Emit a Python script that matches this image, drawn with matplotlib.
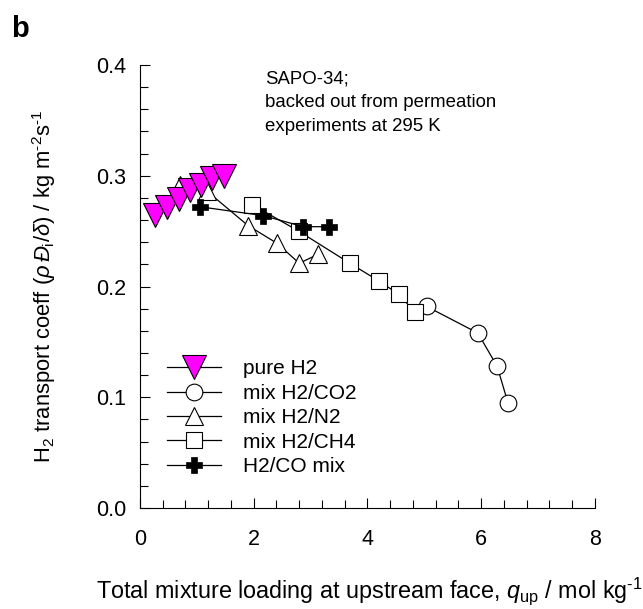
import matplotlib
matplotlib.use("Agg")
import matplotlib.pyplot as plt
from matplotlib.ticker import MultipleLocator, FormatStrFormatter

plt.rcParams['font.family'] = ['Liberation Sans', 'DejaVu Sans']
plt.rcParams['mathtext.fontset'] = 'custom'
plt.rcParams['mathtext.rm'] = 'Liberation Sans'
plt.rcParams['mathtext.it'] = 'Liberation Sans:italic'
plt.rcParams['mathtext.bf'] = 'Liberation Sans:bold'

# data
pure_x = [0.27, 0.48, 0.68, 0.88, 1.07, 1.27, 1.48]
pure_y = [0.265, 0.272, 0.279, 0.287, 0.292, 0.298, 0.300]

co2_x = [5.04, 5.94, 6.28, 6.47]
co2_y = [0.182, 0.158, 0.128, 0.095]

n2_x = [0.70, 1.18, 1.90, 2.41, 2.80, 3.13]
n2_y = [0.292, 0.286, 0.255, 0.239, 0.221, 0.229]

ch4_x = [1.97, 2.79, 3.69, 4.20, 4.55, 4.83]
ch4_y = [0.274, 0.250, 0.221, 0.205, 0.193, 0.177]

co_x = [1.05, 2.17, 2.87, 3.32]
co_y = [0.272, 0.264, 0.254, 0.254]

FS_TICK = 15.5
FS_YLAB = 15.8
FS_XLAB = 16.8
FS_ANN = 13.4
FS_LEG = 15.0

fig = plt.figure(figsize=(6.43, 6.09), dpi=100)
ax = fig.add_axes([0.2177, 0.1658, 0.7076, 0.7275])

lw = 0.9
ax.plot(pure_x, pure_y, '-', color='black', lw=lw, marker='v', ms=17,
        mfc='#ff00ff', mec='black', mew=0.8, label='pure H2', zorder=5)
ax.plot(co2_x, co2_y, '-', color='black', lw=lw, marker='o', ms=12,
        mfc='white', mec='black', mew=0.8, label='mix H2/CO2', zorder=3)
ax.plot(n2_x, n2_y, '-', color='black', lw=lw, marker='^', ms=13,
        mfc='white', mec='black', mew=0.8, label='mix H2/N2', zorder=3)
ax.plot(ch4_x, ch4_y, '-', color='black', lw=lw, marker='s', ms=11,
        mfc='white', mec='black', mew=0.8, label='mix H2/CH4', zorder=3)
ax.plot(co_x, co_y, '-', color='black', lw=lw, marker='P', ms=11,
        mfc='black', mec='black', mew=0.5, label='H2/CO mix', zorder=4)

ax.set_xlim(0, 8)
ax.set_ylim(0, 0.4)
ax.xaxis.set_major_locator(MultipleLocator(2))
ax.xaxis.set_minor_locator(MultipleLocator(0.4))
ax.yaxis.set_major_locator(MultipleLocator(0.1))
ax.yaxis.set_minor_locator(MultipleLocator(0.02))
ax.xaxis.set_major_formatter(FormatStrFormatter('%d'))
ax.yaxis.set_major_formatter(FormatStrFormatter('%.1f'))
ax.tick_params(which='both', direction='in', labelsize=FS_TICK, width=0.8)
ax.tick_params(which='major', length=7.5)
ax.tick_params(which='minor', length=6)
ax.tick_params(axis='x', which='major', pad=15)
ax.tick_params(axis='y', which='major', pad=10)
ax.spines['top'].set_visible(False)
ax.spines['right'].set_visible(False)
for s in ['left', 'bottom']:
    ax.spines[s].set_linewidth(0.8)

ax.set_ylabel(r'H$_2$ transport coeff ($\rho\,\mathit{Đ}_\mathrm{i}/\delta$) / kg m$^{\text{-2}}$s$^{\text{-1}}$',
              fontsize=FS_YLAB)
ax.yaxis.set_label_coords(-0.18, 0.5)
fig.text(0.574, 0.029, r'Total mixture loading at upstream face, $q_\mathrm{up}$ / mol kg$^{\text{-1}}$',
         fontsize=FS_XLAB, ha='center', va='center')

ax.text(2.2, 0.395, 'SAPO-34;\nbacked out from permeation\nexperiments at 295 K',
        fontsize=FS_ANN, ha='left', va='top', linespacing=1.5)

fig.text(0.018, 0.953, 'b', fontsize=21, fontweight='bold', ha='left', va='center')

leg = ax.legend(loc='lower left', bbox_to_anchor=(0.059, 0.072), frameon=False,
                fontsize=FS_LEG, handlelength=2.6, handletextpad=1.05,
                labelspacing=0.26, borderaxespad=0.0, borderpad=0.0)

fig.savefig('out.png', dpi=100)
